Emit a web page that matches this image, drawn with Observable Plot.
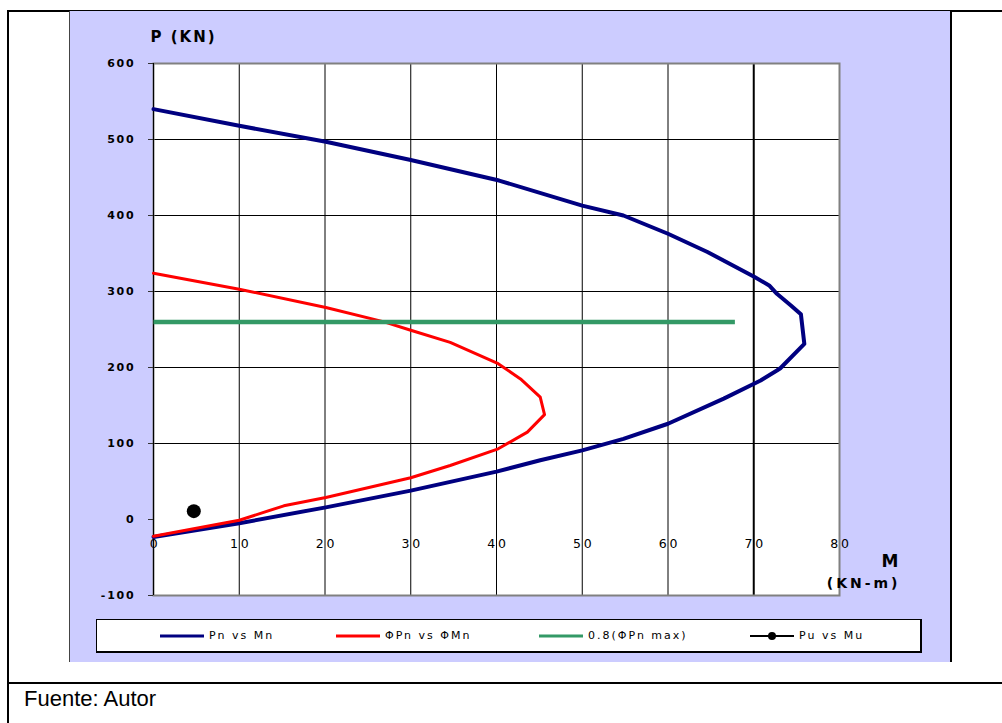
<!DOCTYPE html>
<html>
<head>
<meta charset="utf-8">
<script src="https://cdn.jsdelivr.net/npm/d3@7"></script>
<script src="https://cdn.jsdelivr.net/npm/@observablehq/plot@0.6"></script>
<style>
  html, body { margin: 0; padding: 0; background: #fff; }
  body { font-family: Arial, "Liberation Sans", sans-serif; }
  #page { position: relative; width: 1002px; height: 723px; overflow: hidden; background: #fff; }
  .bl { position: absolute; background: #000; }
  #chart { position: absolute; left: 70px; top: 11px; width: 881px; }
  #legendArea { position: absolute; left: 70px; top: 612px; width: 881px; height: 50px; background: #ccccff; }
  #legendBox { position: absolute; left: 26px; top: 7px; width: 823px; height: 31px; background: #fff;
    border: 1px solid #000; border-right-width: 2px; border-bottom-width: 2px; }
  .lg-item { position: absolute; top: 0; height: 31px; display: flex; align-items: center; }
  .lg-text { font-family: "DejaVu Sans", sans-serif; font-size: 11px; letter-spacing: 2px; color: #000; margin-left: 5px; white-space: nowrap; }
  #source { position: absolute; left: 24px; top: 686px; font-size: 22px; color: #000; }
</style>
</head>
<body>
<div id="page">
  <div class="bl" style="left:7px; top:10px; width:995px; height:2px;"></div>
  <div class="bl" style="left:7px; top:10px; width:2px; height:713px;"></div>
  <div class="bl" style="left:7px; top:682px; width:995px; height:2px;"></div>
  <div id="chart"></div>
  <div id="legendArea"><div id="legendBox"></div></div>
  <div class="bl" style="left:69px; top:11px; width:1px; height:651px; background:#444;"></div>
  <div class="bl" style="left:950px; top:11px; width:2px; height:651px;"></div>
  <div id="source">Fuente: Autor</div>
</div>
<script>
// ---- Data ----
// Pn vs Mn (nominal interaction curve)
const Mn = [0, 10, 20.1, 30, 40.3, 50, 54.8, 60, 64.6, 70.1, 71.8, 72.7, 74.3, 75.5, 75.9, 73.1, 72.7, 70.8, 66.5, 60, 54.8, 50, 45.1, 40, 30, 20.1, 10, 0];
const Pn = [540, 518, 497, 473, 446, 413, 400, 376, 352, 319, 308, 297, 282, 270, 231, 199, 196, 183, 159, 126, 106, 91, 78, 63, 38, 16, -5, -23];

// ΦPn vs ΦMn (design interaction curve)
const Mphi = [0, 10, 20.1, 26.9, 30, 34.6, 40.2, 42.8, 45.1, 45.6, 43.6, 40.2, 34.6, 30, 20.1, 15.2, 10, 0];
const Pphi = [324, 303, 279, 260, 249, 233, 205, 185, 161, 138, 115, 93, 71, 55, 29, 18, -1, -22];

// 0.8(ΦPn max)
const Mlim = [0, 67.8];
const Plim = [260, 260];

// Pu vs Mu
const Mu = [4.7];
const Pu = [11];

// Axes
const xTicks = [0, 10, 20, 30, 40, 50, 60, 70, 80];
const yTicks = [-100, 0, 100, 200, 300, 400, 500, 600];
const gridX = [10, 20, 30, 40, 50, 60, 70];
const gridY = [100, 200, 300, 400, 500];

const seriesNames = ["Pn vs Mn", "ΦPn vs ΦMn", "0.8(ΦPn max)", "Pu vs Mu"];
const seriesColors = ["#000080", "#ff0000", "#339966", "#000000"];

// ---- Build tables ----
const nominal = Mn.map((m, i) => ({M: m, P: Pn[i]}));
const design = Mphi.map((m, i) => ({M: m, P: Pphi[i]}));
const limit = Mlim.map((m, i) => ({M: m, P: Plim[i]}));
const demand = Mu.map((m, i) => ({M: m, P: Pu[i]}));

const wide = "'DejaVu Sans', sans-serif";

const chart = Plot.plot({
  width: 881,
  height: 601,
  marginLeft: 83,
  marginTop: 52,
  marginRight: 112,
  marginBottom: 17,
  x: {domain: [0, 80], axis: null},
  y: {domain: [-100, 600], axis: null},
  style: {background: "#ccccff", fontFamily: "Arial, 'Liberation Sans', sans-serif", overflow: "visible", color: "#000"},
  marks: [
    Plot.frame({fill: "white", stroke: null}),
    Plot.ruleX(gridX, {x: d => d, stroke: "#000", strokeWidth: d => d === 70 ? 2 : 1}),
    Plot.ruleY(gridY, {y: d => d, stroke: "#000", strokeWidth: 1}),
    Plot.frame({stroke: "#808080", strokeWidth: 2}),
    Plot.ruleX([0], {stroke: "#000", strokeWidth: 1}),
    Plot.axisY(yTicks, {anchor: "left", tickSize: 5, tickFormat: () => "", label: null, stroke: "#333"}),
    Plot.text(yTicks, {y: d => d, frameAnchor: "left", dx: -18, textAnchor: "end", lineAnchor: "middle",
      fontSize: 11, fontWeight: "bold", fontFamily: wide}),
    Plot.text(xTicks, {x: d => d, frameAnchor: "bottom", dy: -52, dx: 1.5, lineAnchor: "middle", fontSize: 12.5, fontFamily: wide}),
    Plot.line(nominal, {x: "M", y: "P", stroke: seriesColors[0], strokeWidth: 4, curve: "linear"}),
    Plot.line(design, {x: "M", y: "P", stroke: seriesColors[1], strokeWidth: 3, curve: "linear"}),
    Plot.line(limit, {x: "M", y: "P", stroke: seriesColors[2], strokeWidth: 4.5, strokeLinecap: "butt"}),
    Plot.dot(demand, {x: "M", y: "P", r: 7, fill: seriesColors[3], stroke: null}),
    Plot.text(["P (KN)"], {frameAnchor: "top-left", dx: -3, dy: -26, textAnchor: "start", lineAnchor: "middle",
      fontSize: 15, fontWeight: "bold", fontFamily: wide}),
    Plot.text(["M"], {frameAnchor: "bottom-right", dx: 59, dy: -34, lineAnchor: "middle", fontSize: 17, fontWeight: "bold", fontFamily: wide}),
    Plot.text(["(KN-m)"], {frameAnchor: "bottom-right", dx: 61, dy: -12, lineAnchor: "middle",
      fontSize: 14, fontWeight: "bold", fontFamily: wide})
  ]
});
document.getElementById("chart").appendChild(chart);

// letter spacing to mimic the stretched Excel text
const textGroups = d3.select(chart).selectAll('g[aria-label="text"]').nodes();
// groups in mark order: y labels, x labels, P (KN), M, (KN-m)
const spacing = ["1.8px", "2.8px", "2px", "0px", "3px"];
textGroups.forEach((g, i) => {
  if (spacing[i]) d3.select(g).selectAll("text").style("letter-spacing", spacing[i]);
});

// ---- Legend ----
const legendLeft = [63, 239, 442, 653];
const box = d3.select("#legendBox");
seriesNames.forEach((name, i) => {
  const item = box.append("div").attr("class", "lg-item").style("left", legendLeft[i] + "px");
  const s = item.append("svg").attr("width", 44).attr("height", 10);
  s.append("line").attr("x1", 0).attr("x2", 44).attr("y1", 5).attr("y2", 5)
    .attr("stroke", seriesColors[i]).attr("stroke-width", i === 3 ? 2 : 3);
  if (i === 3) s.append("circle").attr("cx", 22).attr("cy", 5).attr("r", 4).attr("fill", seriesColors[i]);
  item.append("span").attr("class", "lg-text").text(name);
});
</script>
</body>
</html>
